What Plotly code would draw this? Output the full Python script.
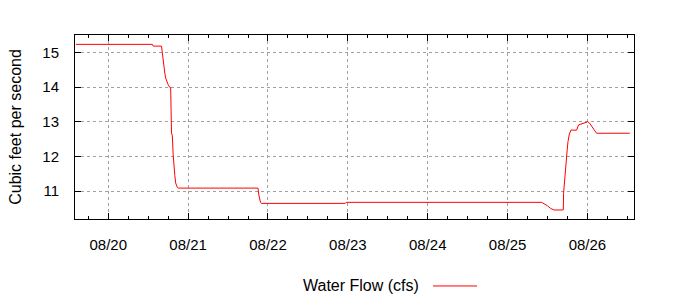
import plotly.graph_objects as go

times = [
    "2010-08-19 14:15", "2010-08-20 13:15", "2010-08-20 13:30", "2010-08-20 16:00",
    "2010-08-20 16:15", "2010-08-20 16:30", "2010-08-20 16:45", "2010-08-20 17:00",
    "2010-08-20 17:15", "2010-08-20 17:30", "2010-08-20 18:00", "2010-08-20 18:30",
    "2010-08-20 18:45", "2010-08-20 19:00", "2010-08-20 19:15", "2010-08-20 19:30",
    "2010-08-20 19:45", "2010-08-20 20:00", "2010-08-20 20:15", "2010-08-20 20:30",
    "2010-08-20 20:45", "2010-08-20 21:00",
    "2010-08-21 21:00", "2010-08-21 21:15", "2010-08-21 21:30", "2010-08-21 21:45",
    "2010-08-21 22:00", "2010-08-22 23:15", "2010-08-22 23:30",
    "2010-08-25 10:15", "2010-08-25 12:00", "2010-08-25 13:00", "2010-08-25 14:00",
    "2010-08-25 16:45", "2010-08-25 16:50", "2010-08-25 17:05", "2010-08-25 17:35",
    "2010-08-25 17:55", "2010-08-25 18:10", "2010-08-25 18:35", "2010-08-25 19:05",
    "2010-08-25 20:45", "2010-08-25 21:20", "2010-08-25 22:05", "2010-08-25 23:05",
    "2010-08-26 00:05", "2010-08-26 00:35", "2010-08-26 01:05", "2010-08-26 01:35",
    "2010-08-26 02:05", "2010-08-26 02:45", "2010-08-26 12:45",
]
flow_cfs = [
    15.23, 15.23, 15.18, 15.18,
    14.98, 14.74, 14.55, 14.40,
    14.26, 14.17, 14.07, 13.99,
    13.99, 12.68, 12.60, 12.05,
    11.62, 11.45, 11.24, 11.15,
    11.11, 11.09,
    11.09, 10.89, 10.74, 10.68,
    10.65, 10.65, 10.68,
    10.68, 10.58, 10.50, 10.46,
    10.46, 10.94, 11.28, 11.95,
    12.19, 12.43, 12.65, 12.76,
    12.76, 12.91, 12.94, 12.97,
    13.00, 12.97, 12.91, 12.84,
    12.76, 12.67, 12.67,
]
series_name = "Water Flow (cfs)"
y_title = "Cubic feet per second"
y_ticks = [11, 12, 13, 14, 15]

FONT = "Liberation Sans, Arial, sans-serif"

fig = go.Figure()
fig.add_trace(go.Scatter(x=times, y=flow_cfs, mode="lines", name=series_name,
                         line=dict(color="#ff0000", width=1), showlegend=False))

fig.update_layout(
    width=700, height=300,
    margin=dict(l=75, r=66, t=35, b=81),
    paper_bgcolor="white", plot_bgcolor="white",
    font=dict(family=FONT, size=15, color="black"),
    xaxis=dict(
        type="date",
        range=["2010-08-19 14:00", "2010-08-26 14:00"],
        tick0="2010-08-20", dtick=86400000, tickformat="%m/%d",
        showline=True, linecolor="black", linewidth=1, mirror="ticks",
        ticks="inside", ticklen=6, tickcolor="black",
        showgrid=True, gridcolor="#a0a0a0", griddash="3px,3px", gridwidth=1,
        ticklabelstandoff=12,
        minor=dict(dtick=21600000, ticks="inside", ticklen=3, tickcolor="black", showgrid=False),
        zeroline=False,
    ),
    yaxis=dict(
        range=[10.2, 15.5],
        tickvals=y_ticks,
        showline=True, linecolor="black", linewidth=1, mirror="ticks",
        ticks="inside", ticklen=6, tickcolor="black",
        showgrid=True, gridcolor="#a0a0a0", griddash="3px,3px", gridwidth=1,
        ticklabelstandoff=12,
        title=dict(text=y_title, standoff=16, font=dict(size=16)),
        zeroline=False,
    ),
    annotations=[dict(text=series_name, xref="paper", yref="paper",
                      x=0.619, y=-0.364, xanchor="right", yanchor="middle",
                      showarrow=False, font=dict(size=16))],
    shapes=[dict(type="line", xref="paper", yref="paper",
                 x0=0.6404, x1=0.7191, y0=-0.364, y1=-0.364,
                 line=dict(color="#ff0000", width=1))],
)

fig.write_html("out.html")
